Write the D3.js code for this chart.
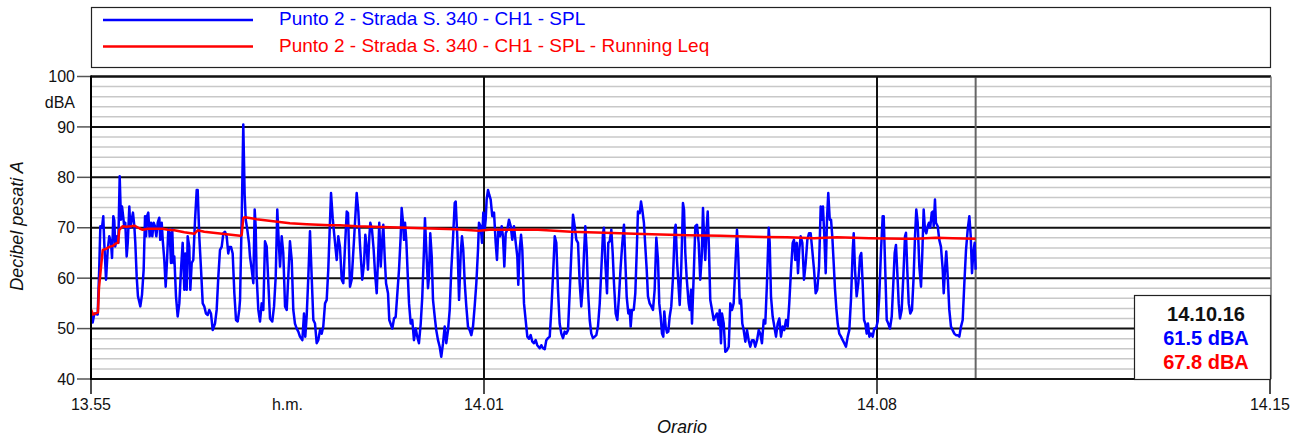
<!DOCTYPE html>
<html><head><meta charset="utf-8">
<script src="https://cdn.jsdelivr.net/npm/d3@7"></script>
<style>body{margin:0;background:#fff}svg{display:block;font-family:"Liberation Sans",Arial,sans-serif}</style>
</head><body><svg id="c" width="1302" height="439"></svg>
<script>
// ---- data ----
const xTickSeconds = [0, 400, 800, 1200];            // seconds after 13:55:00
const xTickLabels = ["13.55", "14.01", "14.08", "14.15"];
const xUnitLabel = "h.m.";
const xUnitAt = 200;
const yTicks = [40, 50, 60, 70, 80, 90, 100];
const yMinorStep = 2;
const yUnit = "dBA";
const yTitle = "Decibel pesati A";
const xTitle = "Orario";
const seriesNames = ["Punto 2 - Strada S. 340 - CH1 - SPL", "Punto 2 - Strada S. 340 - CH1 - SPL - Running Leq"];
const seriesColors = ["#0000ff", "#ff0000"];
const dataEnd = 900.4;
const summaryTime = "14.10.16";
const summaryValues = ["61.5 dBA", "67.8 dBA"];

// SPL [seconds, dBA]
const spl = [[0,53.5],[1.7,51.2],[3.4,53],[6.8,52.8],[8.4,62],[9.5,70.3],[11.2,70],[12.5,72.3],[13.5,67],[15.3,59.7],[17,65.6],[18.6,68.3],[20.4,67],[21.4,64],[22.7,72.3],[23.7,71.5],[24.7,66.3],[26.5,68.3],[27.8,67],[29.2,80.2],[30.5,71.6],[31.6,74.2],[32.9,72],[33.9,70],[34.9,71],[36.3,64.3],[37.4,67],[39,74.2],[40,70],[41.4,71.6],[42.7,73],[44.1,70.3],[45.1,67],[46.5,60.3],[47.8,56.4],[50.2,54.4],[51.9,56.7],[53.6,61.7],[55,72.3],[56,68.3],[57,72.3],[58.3,73],[59.7,68.3],[61.1,71],[62.4,68.3],[63.8,71],[65.1,70.3],[66.5,68.3],[67.9,71],[69.5,72],[70.5,67.6],[72,71],[73,67.6],[74.6,63.6],[76,58.3],[77.4,63.6],[78.7,69.7],[80.1,69],[81.4,63],[82.7,69.7],[83.8,63],[84.8,64.3],[86.5,56.4],[88.2,52.4],[89.9,55],[91.6,61.7],[93.3,67],[95,57.7],[96,64.9],[97.4,57.7],[98.4,68.3],[100,66.3],[101.1,57.7],[102.5,63],[104.1,63.6],[105.9,71.6],[107.6,77.5],[108.6,77.5],[110.2,68.3],[112,61.7],[113.7,55],[115.3,54.4],[117,53],[118.8,52.7],[120.4,53.7],[122.1,53],[123.9,49.7],[126.2,51],[127.9,53.7],[129.6,60.3],[131.3,65.6],[133,66.2],[134.7,68.9],[136.4,69.2],[138.1,68.3],[139.7,64.9],[140.8,66.2],[142.5,66.2],[144.2,64.9],[145.9,57],[147.6,51.7],[149.3,51.4],[150.9,53.7],
[151.7,55.7],[153.4,72],[155,90.5],[156.4,76.5],[157.5,71.6],[159.1,69.6],[160.8,67],[161.8,64.3],[163.6,61.7],[165.2,59],[166.6,73.6],[167.6,70.3],[168.6,60.3],[170.3,53.7],[172,51.4],[173.7,55],[175.4,53.7],[177.1,67.3],[178.8,66.3],[180.5,59],[182.2,52],[184.5,51.4],[186.3,54.4],[188,60.3],[189.6,73.6],[191,67.6],[192.4,62.3],[194.1,68.3],[195.7,65],[197.5,54.4],[199.2,53.7],[200.8,60.3],[202.5,67.3],[204.3,63.6],[205.9,53.7],[207.6,51],[209.4,50],[211,49.4],[212.7,48.4],[215.1,47.7],[216.8,53],[218.1,48.4],[219.5,52.4],[221.2,60.3],[222.9,69.3],[224.6,60.3],[226.3,51.7],[228,51],[229.7,47.1],[231.3,47.7],[233.1,49.7],[234.8,49],[236.4,50.4],[238.2,55],[239.9,55.7],[241.5,61.7],[243.3,71.6],[244.3,76.9],[246,71.9],[247.6,68.6],[250.1,63.6],[251.7,68.3],[253.4,66.2],[255.2,59.7],[256.8,59],[258.5,66.2],[260.3,73.2],[261.6,72.9],[263.6,58.3],[265.3,59.7],[267.7,67.6],[270.4,76.9],[272.1,73.2],[273.8,66.6],[276.1,59.7],[277.9,63],[279.2,68.6],[280.6,66.2],[281.9,61.7],[283.3,68.3],[284.3,71],[286,69.6],[287.7,65.6],[289.1,61],[290.8,57],[292.1,63.6],[293.4,71],[294.9,62.3],[296.2,66.9],[297.5,70.6],[298.9,64.3],[300.3,59],[302.3,57],[303.6,51.7],
[306.7,50],[308.4,52],[310.1,52.3],[311.8,57],[313.5,61.7],[315.2,68.3],[316.2,73.9],[317.6,71],[318.6,67.6],[319.6,71],[320.9,67.6],[322.3,61],[323.7,55],[325.4,51],[327,51.7],[328.7,47.7],[330.5,50],[332.1,48.4],[333.8,47.1],[335.6,51],[337.2,56.4],[338.9,65.6],[339.9,71.9],[341.3,65.6],[343,58],[344,60.3],[345.3,68.9],[346.8,64.3],[348.1,55.7],[349.8,52.4],[351.4,49.7],[353.2,47.7],[354.9,46.4],[356.5,44.4],[358.3,47.1],[360,50.4],[361.6,47.1],[363.4,49.7],[365.1,53.7],[366.7,61.7],[368.4,67.6],[370.2,74.9],[371.2,75.2],[372.8,68.3],[374.6,55.7],[376.3,65],[377.6,68.3],[378.9,65.6],[380.4,59],[382,54.4],[383.7,50.4],[385.4,49.7],[387.1,48.7],[388.8,50.4],[390.5,54.4],[392.2,59],[393.9,65.6],[394.9,71],[396.6,70.3],[398,67],[399.3,73],[400.7,69.6],[401.7,71.6],[402.7,75.6],[404.1,77.5],[405.4,76.5],[406.8,75.6],[408.4,72.3],[410.2,73],[411.9,67],[413.2,63.6],[414.6,69.6],[416.3,68.3],[418,70.3],[419.3,68.3],[420.7,62.3],[422.1,68.9],[423.7,69.6],[425.4,71.6],[427.2,70.3],[428.8,67.6],[430.5,70.3],[432.3,67],[433.9,64.3],[434.9,58.7],[436.3,65.6],[437.7,68.6],[439,65.6],[440.7,55],[442.4,51.7],[444.1,48.4],[445.8,48],[447.5,48.7],[449.2,47.4],[450.9,47.1],[452.6,47.7],[454.2,46.7],
[456.7,46.1],[458.3,46.7],[460,46.1],[461.8,45.9],[463.4,47.7],[465.1,48.1],[466.9,48.4],[468.5,53.7],[470.2,60.3],[472,68.3],[473.6,67],[475.3,57.7],[477,51],[478.7,49],[480.4,48.1],[482.1,49.4],[483.8,49],[485.5,49.7],[487.2,57],[488.9,65],[490.6,72.6],[492.3,70.3],[494,67.6],[495.7,67],[497.4,59],[499,54.4],[500.5,58.3],[501.8,65],[503.1,70.3],[504.5,65.6],[505.8,57.7],[507.6,51.7],[509.2,49],[510.9,48.1],[512.7,48.4],[514.3,48.7],[516,50.4],[517.8,55],[519.4,61.7],[521.1,68.9],[522.1,70],[523.5,63],[525.2,57],[526.5,67],[527.9,67.3],[529.6,69.6],[531,64.9],[532.3,59],[534,53],[535.7,51.7],[537.4,56.4],[539.1,62.3],[540.8,67],[542.5,70.6],[543.8,63.6],[545.2,56.4],[546.9,53],[548.3,53.7],[549.3,50.4],[550.6,53.7],[552.4,53.7],[554,57],[555.4,65],[556.7,73.2],[558.5,72.9],[559.8,75.2],[561.1,73.6],[562.8,70.9],[564.2,66.2],[565.6,61.7],[566.9,56.4],[568.6,55],[570.3,54.4],[572,53.7],[573.7,57.7],[575.4,68],[577.1,63.6],[578.4,55],[579.8,52.4],[581.2,49],[582.5,48.4],[583.5,53.4],[584.9,50.4],[586.3,49.2],[587.6,49.4],[589,52.4],[590.6,54.4],[592.4,60.3],[594.1,69.6],[595.1,70.6],[596.4,63.6],[597.8,59],[599.2,54.7],[600.8,62.3],[602.5,74.9],[603.6,73.6],[604.9,65],[606.3,60],[608.3,55],[609.4,53.7],[610.7,57.7],[611.7,51],[613.4,60.3],[615.1,70.3],[616.8,70.6],[618.5,67],[620.1,59.7],[621.6,64.3],[622.9,73.9],[624.2,67],[625.2,63.6],[626.3,69],[627.7,73.2],[629,65.6],[630.3,55.7],[632.1,53.7],[633.8,51.7],[635.4,52.4],[637.1,53],[638.9,50.7],[639.9,53.7],[641.2,47.1],[642.2,53],[644,51],[645.6,45.4],[647.3,45.7],[649.1,46.4],[650.7,55],[652.4,53.7],[654.1,55],[655.8,62.3],[657.5,69.6],[658.8,64.3],[660.3,55],[661.6,55.7],[662.9,51],[664.3,49.7],[666,47.4],[667.7,49.7],[669.4,47.7],[671,46.4],[672.8,47.7],[674.5,47.7],[676.1,46.4],[677.9,47.7],[679.6,49.7],[681.2,49],[682.9,47.1],[684.7,51.7],[686.3,51],[688,59],[689.8,70],[690.8,67],[692.1,56.4],[693.8,52.4],[695.5,50.4],[697.2,48.4],[698.9,51],[700.6,52],[702.3,48.4],[704,50.4],[705.6,49.7],[707.4,51.7],[709.1,50.4],[710.7,55],[712.5,61.7],[714.2,67],[715.5,67.6],[716.8,63.6],[718.3,67],[719.6,61],[720.9,65.6],[722.3,68.3],[724,67],[725.7,59.7],[727.4,63],[729.1,67.6],[730.8,68.9],[732.5,68.9],[734.1,65.6],[735.9,61.7],[737.6,57],[739.2,57.7],[741,62.3],[742.7,74.2],[744,71.6],[745,74.2],[746.4,68.3],[747.8,61],[749.1,71.6],[750.4,76.9],[751.9,71.6],[753.2,71.6],[754.5,68.3],[755.9,63],[757.2,58],[758.6,54],[760,51],[761.6,49],[763.4,48.4],[765.1,47.7],[766.7,47.1],[768.4,46.4],[770.2,48.4],[771.8,49.7],[773.5,55.7],[775.3,65.6],[776.3,68.9],[777.6,61.7],[779.3,56.4],[781,59],[782.7,64.3],[784,65],[785.4,59],[786.8,51.7],[788.1,51],[789.5,49],[790.8,51],[792.2,48.4],[793.9,49],[795.6,48.4],[797.2,50],[799,50],[800.7,51.4],[802.3,56.4],[804.1,65.6],[805.8,72.3],[806.8,72.3],[808.1,63.6],[809.9,51.7],[811.5,51],[813.2,50],[815,52.4],[816.6,59],[818,65],[819.3,66.6],[820.7,61],[822.1,55],[823.4,52],[825.1,53.7],[826.8,60.3],[828.5,68.3],[829.5,69],[830.8,61.7],[832.3,55],[833.9,53],[835.6,53.7],[837.3,60.3],[838.7,68.3],[840,73.6],[841.4,71],[843.1,62.3],[844.8,58.3],[846.1,64.9],[847.5,73.6],[848.8,69.6],[850.2,68.9],[851.6,70.3],[852.9,71],[854.2,70],[855.7,73],[856.7,73.2],[857.7,70.3],[859,75.6],[860,71],[861.8,70.3],[863.4,67.6],[865.1,66.2],[866.9,61.7],[867.9,57],[869.2,61.7],[870.5,65.3],[872,60.3],[873.6,53.7],[875.3,50.4],[877,49.7],[878.7,49],[880.4,48.7],[882.1,48.7],[883.8,48.4],[885.5,50.4],[887.2,51.7],[888.9,59],[890.6,65.6],[892.3,69.6],[894,72.3],[895.4,68.3],[896.7,61],[898,65],[899.4,67],[900.4,61.7]];

// Running Leq [seconds, dBA]
const leq = [[0,53.8],[2,52.8],[7.1,53.2],[8.1,58],[11.9,65.6],[15.3,65.8],[18.6,66.2],[22.1,66.4],[25.4,66.9],[27.5,67],[28.8,69.6],[32.3,70.3],[35.6,70.2],[40.7,70.3],[44.1,70.4],[49.2,69.9],[52.6,69.6],[57.7,69.8],[67.9,69.8],[73,69.8],[78.1,69.6],[84.8,69.5],[95,69.1],[105.1,68.8],[108.6,69.5],[115.3,69.2],[129,68.9],[142.5,68.6],[151.7,68.4],[153.4,68.6],[155,71.9],[156.7,72.1],[168.6,71.7],[185.5,71.3],[202.5,70.9],[219.5,70.7],[243.3,70.5],[253.4,70.5],[270.4,70.3],[287.3,70.2],[304.3,70.1],[337.2,69.9],[371.2,69.7],[394.9,69.4],[400,69.5],[405.1,69.6],[422.4,69.6],[431.5,69.6],[455,69.6],[488.5,69.2],[522.8,69],[553.4,68.8],[606.6,68.5],[640.5,68.4],[674.5,68.2],[708.4,68.1],[735.9,67.9],[759.3,68.1],[792.2,67.9],[826.5,67.8],[839.7,67.8],[860,68],[877,67.9],[900.4,67.8]];

// ---- chart ----
const svg = d3.select("#c");
const L = 91, R = 1271, T = 76.5, B = 379;
const x = d3.scaleLinear().domain([0, 1200]).range([L, 1270]);
const y = d3.scaleLinear().domain([40, 100]).range([B, T]);

svg.append("rect").attr("width", 1302).attr("height", 439).attr("fill", "#fff");

// minor grid
const minor = d3.range(40, 100 + 0.001, yMinorStep).filter(v => v % 10 !== 0);
svg.append("g").selectAll("line").data(minor).join("line")
  .attr("x1", L).attr("x2", R).attr("y1", d => y(d)).attr("y2", d => y(d))
  .attr("stroke", "#c8c8c8").attr("stroke-width", 1.5);
// major grid
svg.append("g").selectAll("line").data(yTicks).join("line")
  .attr("x1", L).attr("x2", R).attr("y1", d => y(d)).attr("y2", d => y(d))
  .attr("stroke", "#111").attr("stroke-width", 2);
// y ticks outside
svg.append("g").selectAll("line").data(yTicks).join("line")
  .attr("x1", 77).attr("x2", L).attr("y1", d => y(d)).attr("y2", d => y(d))
  .attr("stroke", "#555").attr("stroke-width", 1.5);
// vertical grid
svg.append("g").selectAll("line").data(xTickSeconds.slice(1, 3)).join("line")
  .attr("x1", d => x(d)).attr("x2", d => x(d)).attr("y1", T).attr("y2", B)
  .attr("stroke", "#111").attr("stroke-width", 2);
svg.append("line").attr("x1", x(dataEnd)).attr("x2", x(dataEnd)).attr("y1", T).attr("y2", B)
  .attr("stroke", "#666").attr("stroke-width", 2);
// x ticks
svg.append("g").selectAll("line").data(xTickSeconds).join("line")
  .attr("x1", d => x(d)).attr("x2", d => x(d)).attr("y1", B).attr("y2", 394)
  .attr("stroke", "#111").attr("stroke-width", 1.5);

// series
svg.append("defs").append("clipPath").attr("id", "clip").append("rect")
  .attr("x", L).attr("y", T).attr("width", R - L).attr("height", B - T);
const line = d3.line().x(d => x(d[0])).y(d => y(d[1]));
const g = svg.append("g").attr("clip-path", "url(#clip)");
g.append("path").datum(spl).attr("d", line).attr("fill", "none")
  .attr("stroke", seriesColors[0]).attr("stroke-width", 2.5).attr("stroke-linejoin", "round");
g.append("path").datum(leq).attr("d", line).attr("fill", "none")
  .attr("stroke", seriesColors[1]).attr("stroke-width", 2.5).attr("stroke-linejoin", "round");

// frame
svg.append("line").attr("x1", L).attr("x2", R).attr("y1", T).attr("y2", T).attr("stroke", "#111").attr("stroke-width", 2);
svg.append("line").attr("x1", L).attr("x2", R).attr("y1", B).attr("y2", B).attr("stroke", "#111").attr("stroke-width", 2);
svg.append("line").attr("x1", R).attr("x2", R).attr("y1", T).attr("y2", B).attr("stroke", "#777").attr("stroke-width", 1.5);
svg.append("line").attr("x1", L).attr("x2", L).attr("y1", T - 1).attr("y2", B + 1).attr("stroke", "#000").attr("stroke-width", 2);

// y labels
svg.append("g").selectAll("text").data(yTicks).join("text")
  .attr("x", 75).attr("y", d => y(d) + 5.7).attr("text-anchor", "end")
  .attr("font-size", 16).attr("fill", "#111").text(d => d);
svg.append("text").attr("x", 75).attr("y", 108.3).attr("text-anchor", "end")
  .attr("font-size", 16).attr("fill", "#111").text(yUnit);
svg.append("text").attr("transform", "translate(22.5,226) rotate(-90)")
  .attr("text-anchor", "middle").attr("font-size", 18).attr("font-style", "italic")
  .attr("fill", "#111").text(yTitle);

// x labels
svg.append("g").selectAll("text").data(xTickSeconds).join("text")
  .attr("x", d => x(d)).attr("y", 410).attr("text-anchor", "middle")
  .attr("font-size", 16).attr("fill", "#111").text((d, i) => xTickLabels[i]);
svg.append("text").attr("x", x(xUnitAt)).attr("y", 410).attr("text-anchor", "middle")
  .attr("font-size", 16).attr("fill", "#111").text(xUnitLabel);
svg.append("text").attr("x", 682).attr("y", 433).attr("text-anchor", "middle")
  .attr("font-size", 18).attr("font-style", "italic").attr("fill", "#111").text(xTitle);

// legend
svg.append("rect").attr("x", 91.5).attr("y", 7.5).attr("width", 1179).attr("height", 60)
  .attr("fill", "#fff").attr("stroke", "#222").attr("stroke-width", 1.2);
const legY = [20, 46.5];
seriesNames.forEach((n, i) => {
  svg.append("line").attr("x1", 103).attr("x2", 253).attr("y1", legY[i]).attr("y2", legY[i])
    .attr("stroke", seriesColors[i]).attr("stroke-width", 2.5);
  svg.append("text").attr("x", 279).attr("y", legY[i] + 4.5 + i * 0.8).attr("font-size", 19)
    .attr("fill", seriesColors[i]).text(n);
});

// summary box
svg.append("rect").attr("x", 1134.5).attr("y", 295.5).attr("width", 136).attr("height", 84)
  .attr("fill", "#fff").attr("stroke", "#222").attr("stroke-width", 1.2);
const boxTexts = [summaryTime, ...summaryValues];
const boxCols = ["#111", ...seriesColors];
const boxY = [320.5, 344.5, 368.5];
boxTexts.forEach((t, i) => {
  svg.append("text").attr("x", 1206).attr("y", boxY[i]).attr("text-anchor", "middle")
    .attr("font-size", 20).attr("font-weight", "bold").attr("fill", boxCols[i]).text(t);
});
</script></body></html>
